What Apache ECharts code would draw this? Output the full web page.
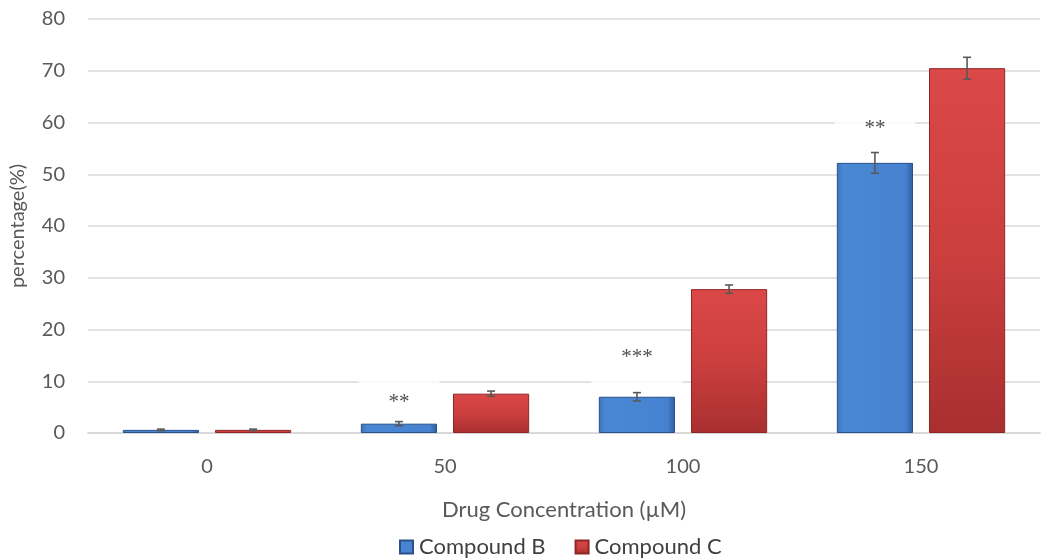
<!DOCTYPE html>
<html><head><meta charset="utf-8">
<script src="https://cdn.jsdelivr.net/npm/echarts@6/dist/echarts.min.js"></script>
<style>html,body{margin:0;padding:0;background:#fff}#c{width:1049px;height:560px}</style>
</head><body><div id="c"></div>
<script>
const categories = ['0', '50', '100', '150'];
const compoundB = [0.6, 1.8, 7.0, 52.2];
const compoundBErr = [0.15, 0.4, 0.8, 2.0];
const compoundC = [0.6, 7.6, 27.8, 70.5];
const compoundCErr = [0.15, 0.5, 0.8, 2.1];
const starLabels = ['', '**', '***', '**'];
const starPos = [null, 6.8, 15.6, 59.9];
const yTicks = [0, 10, 20, 30, 40, 50, 60, 70, 80];

const FONT = 'Lato, "Open Sans", sans-serif';
const FS = 22;
const BAR_W = 0.32, BAR_GAP = 0.21;

function errSeries(vals, errs, sign) {
  return {
    type: 'custom', z: 5,
    data: vals.map((v, i) => [i, v, errs[i]]),
    renderItem: function (params, api) {
      const i = api.value(0), v = api.value(1), e = api.value(2);
      const band = api.size([1, 0])[0];
      const off = sign * band * BAR_W * (1 + BAR_GAP) / 2;
      const top = api.coord([i, v + e]);
      const bot = api.coord([i, v - e]);
      const x = top[0] + off, cap = 4;
      const st = { stroke: '#595959', lineWidth: 1.6 };
      return { type: 'group', children: [
        { type: 'line', shape: { x1: x, y1: top[1], x2: x, y2: bot[1] }, style: st },
        { type: 'line', shape: { x1: x - cap, y1: top[1], x2: x + cap, y2: top[1] }, style: st },
        { type: 'line', shape: { x1: x - cap, y1: bot[1], x2: x + cap, y2: bot[1] }, style: st }
      ]};
    }
  };
}

const blueFill = new echarts.graphic.LinearGradient(0, 0, 1, 0, [
  { offset: 0, color: '#3b73bd' }, { offset: 0.08, color: '#4a88d4' },
  { offset: 0.9, color: '#4682cf' }, { offset: 1, color: '#2f5f9e' }]);
const redFill = new echarts.graphic.LinearGradient(0, 0, 0, 1, [
  { offset: 0, color: '#db4848' }, { offset: 0.5, color: '#cc3f3f' },
  { offset: 1, color: '#a92f2f' }]);

const chart = echarts.init(document.getElementById('c'));
chart.setOption({
  animation: false,
  textStyle: { fontFamily: FONT },
  grid: { left: 88, right: 9, top: 19, bottom: 127, containLabel: false },
  legend: {
    top: 536, left: 399, padding: 0, itemWidth: 13, itemHeight: 13, itemGap: 29, icon: 'rect',
    textStyle: { fontSize: FS, color: '#404040', fontFamily: FONT, padding: [0, 0, 0, 1] },
    data: ['Compound B', 'Compound C']
  },
  xAxis: {
    type: 'category', data: categories,
    name: 'Drug Concentration (µM)', nameLocation: 'middle', nameGap: 66,
    nameTextStyle: { fontSize: FS, color: '#595959' },
    axisLine: { show: true, lineStyle: { color: '#d9d9d9', width: 2 } },
    axisTick: { show: false },
    axisLabel: { fontSize: 20, color: '#595959', margin: 24 }
  },
  yAxis: {
    type: 'value', min: 0, max: 80, interval: 10,
    name: 'percentage(%)', nameLocation: 'middle', nameGap: 60,
    nameTextStyle: { fontSize: 20, color: '#595959' },
    axisLine: { show: false }, axisTick: { show: false },
    axisLabel: { fontSize: 20, color: '#595959', margin: 23,
      formatter: v => yTicks.includes(v) ? String(v) : '' },
    splitLine: { lineStyle: { color: '#d9d9d9', width: 1.5 } }
  },
  series: [
    { name: 'Compound B', type: 'bar', z: 3, data: compoundB, barWidth: (BAR_W * 100) + '%', barGap: (BAR_GAP * 100) + '%',
      itemStyle: { color: blueFill, borderColor: '#2a5189', borderWidth: 1 } },
    { name: 'Compound C', type: 'bar', z: 3, data: compoundC, barWidth: (BAR_W * 100) + '%',
      itemStyle: { color: redFill, borderColor: '#8f2626', borderWidth: 1 } },
    errSeries(compoundB, compoundBErr, -1),
    errSeries(compoundC, compoundCErr, 1),
    { type: 'scatter', z: 1, symbolSize: 1, itemStyle: { color: 'rgba(0,0,0,0)' },
      data: starPos.map((v, i) => v == null ? null : [i, v]),
      label: { show: true, position: 'inside', offset: [-46, 5],
        formatter: p => starLabels[p.dataIndex], fontSize: 21, color: '#222', fontFamily: '"Liberation Serif", serif',
        backgroundColor: '#fff', padding: [16, 30] } }
  ]
});
</script></body></html>
